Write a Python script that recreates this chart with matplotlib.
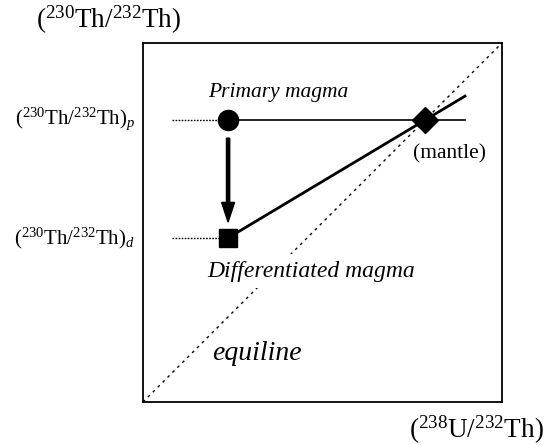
import matplotlib
matplotlib.use("Agg")
import matplotlib.pyplot as plt

plt.rcParams['font.family'] = ['Liberation Serif', 'DejaVu Serif']
plt.rcParams['mathtext.fontset'] = 'custom'
plt.rcParams['mathtext.rm'] = 'Liberation Serif'
plt.rcParams['mathtext.it'] = 'Liberation Serif:italic'

# Data (normalized activity ratios)
mantle_x, mantle_y = 0.785, 0.785
primary_x, primary_y = 0.237, 0.785
diff_x, diff_y = 0.237, 0.457
line_end_x = 0.897
dotted_start_x = 0.081
equiline = [0.0, 1.0]

W, H = 553, 445
fig = plt.figure(figsize=(W / 100, H / 100), dpi=100)
L, R, T, B = 143, 502, 43, 402
ax = fig.add_axes([L / W, 1 - B / H, (R - L) / W, (B - T) / H])
ax.set_xlim(0, 1)
ax.set_ylim(0, 1)
ax.set_xticks([])
ax.set_yticks([])
for s in ax.spines.values():
    s.set_linewidth(1.3)
    s.set_color('black')

# equiline
ax.plot(equiline, equiline, color='black', lw=1.0, ls=(0, (2, 3)), zorder=1)

# horizontal dotted guides
ax.plot([dotted_start_x, primary_x], [primary_y, primary_y], color='black', lw=1.0, ls=(0, (1.2, 1.0)), zorder=2)
ax.plot([dotted_start_x, diff_x], [diff_y, diff_y], color='black', lw=1.0, ls=(0, (1.2, 1.0)), zorder=2)

# horizontal line from primary magma
ax.plot([primary_x, line_end_x], [primary_y, mantle_y], color='black', lw=1.2, zorder=3)

# line from differentiated magma through mantle
slope = (mantle_y - diff_y) / (mantle_x - diff_x)
ax.plot([diff_x, line_end_x], [diff_y, diff_y + slope * (line_end_x - diff_x)],
        color='black', lw=2.0, zorder=3)

# arrow
ax.arrow(primary_x, 0.735, 0, 0.501 - 0.735, width=0.009, head_width=0.036,
         head_length=0.055, length_includes_head=True, color='black', zorder=4)

# markers
ax.plot([primary_x], [primary_y], 'o', color='black', ms=14.5, zorder=5)
ax.plot([diff_x], [diff_y], 's', color='black', ms=13.5, zorder=5)
ax.plot([mantle_x], [mantle_y], 'D', color='black', ms=12.8, zorder=5)

def px(xp, yp):
    return ((xp - L) / (R - L), (B - yp) / (B - T))

ax.text(*px(278, 92), 'Primary magma', style='italic', fontsize=15.5, ha='center', va='center')
ax.text(*px(450, 154), '(mantle)', fontsize=15.5, ha='center', va='center')
ax.text(*px(311, 271), 'Differentiated magma', style='italic', fontsize=17, ha='center', va='center',
        bbox=dict(boxstyle='square,pad=0.28', fc='white', ec='none'), zorder=2)
ax.text(*px(257, 354), 'equiline', style='italic', fontsize=20, ha='center', va='center')

fig.text(109 / W, 1 - 20 / H, r'$\mathrm{(^{230}Th/^{232}Th)}$', fontsize=19.5, ha='center', va='center')
fig.text(135 / W, 1 - 119 / H, r'$\mathrm{(^{230}Th/^{232}Th)}_{\mathit{p}}$', fontsize=15, ha='right', va='center')
fig.text(135 / W, 1 - 238 / H, r'$\mathrm{(^{230}Th/^{232}Th)}_{\mathit{d}}$', fontsize=15, ha='right', va='center')
fig.text(476 / W, 1 - 430 / H, r'$\mathrm{(^{238}U/^{232}Th)}$', fontsize=19.5, ha='center', va='center')

fig.savefig('out.png', dpi=100)
